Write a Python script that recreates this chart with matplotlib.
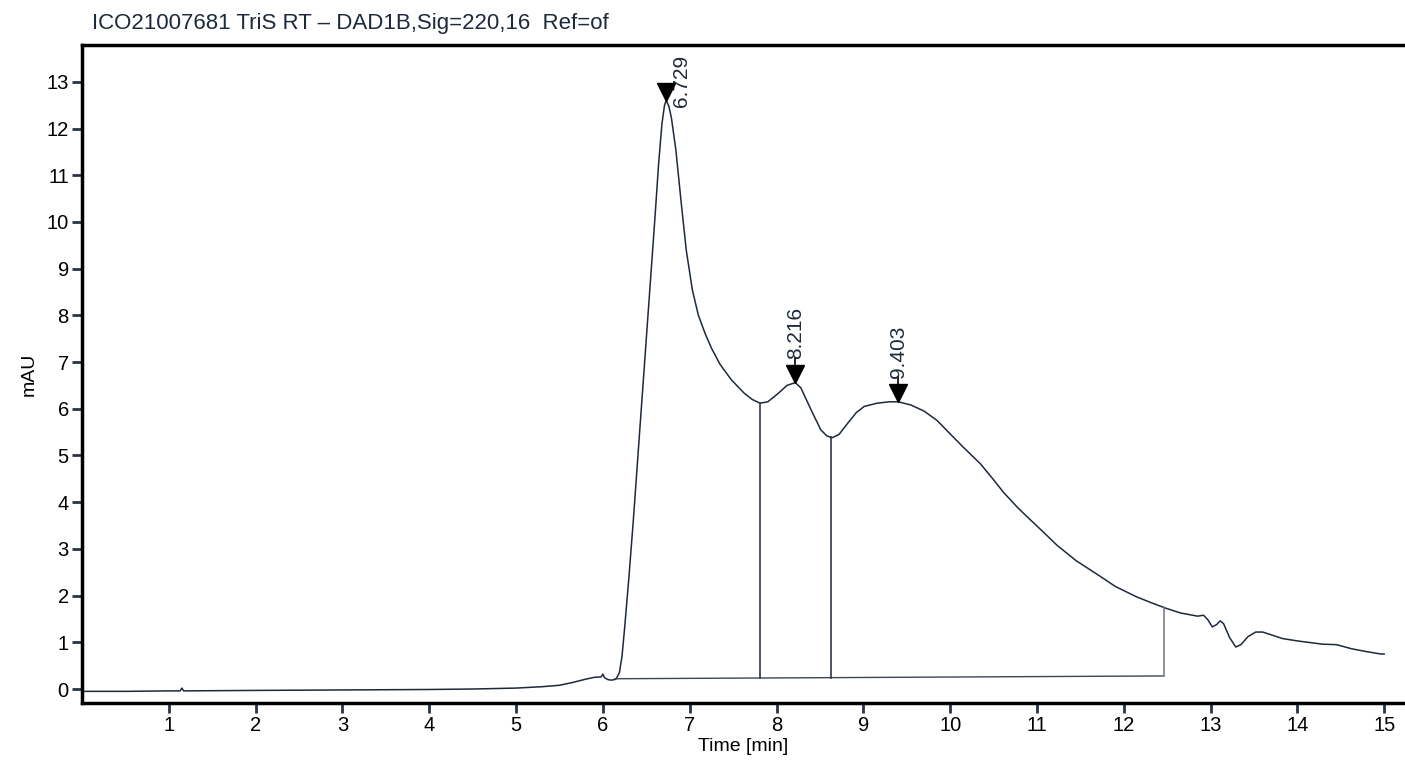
import numpy as np
import matplotlib
matplotlib.use('Agg')
import matplotlib.pyplot as plt

# chromatogram trace, DAD1B signal 220 nm
time_min = [0.00, 0.50, 1.00, 1.13, 1.15, 1.17, 2.00, 3.00, 4.00, 4.50, 5.00, 5.30, 5.50,
            5.65, 5.80, 5.90, 5.98, 6.00, 6.02, 6.06, 6.10, 6.15, 6.19, 6.22, 6.25, 6.30,
            6.35, 6.40, 6.45, 6.50, 6.55, 6.60, 6.64, 6.68, 6.71, 6.729, 6.76, 6.79, 6.84,
            6.90, 6.96, 7.03, 7.10, 7.18, 7.25, 7.35, 7.48, 7.63, 7.72, 7.81, 7.90, 8.02,
            8.12, 8.216, 8.28, 8.40, 8.51, 8.58, 8.64, 8.72, 8.82, 8.92, 9.01, 9.16, 9.30,
            9.403, 9.55, 9.70, 9.85, 9.97, 10.15, 10.35, 10.50, 10.62, 10.78, 10.92, 11.08,
            11.23, 11.45, 11.69, 11.90, 12.14, 12.30, 12.47, 12.65, 12.85, 12.92, 12.97, 13.02,
            13.07, 13.11, 13.15, 13.22, 13.29, 13.35, 13.43, 13.52, 13.60, 13.70, 13.83, 14.00,
            14.29, 14.45, 14.63, 14.80, 14.96, 15.00]
signal_mau = [-0.05, -0.05, -0.04, -0.04, 0.02, -0.04, -0.03, -0.02, -0.01, 0.00, 0.02, 0.05, 0.08,
              0.14, 0.21, 0.25, 0.26, 0.32, 0.24, 0.20, 0.19, 0.21, 0.35, 0.70, 1.30, 2.40,
              3.60, 4.90, 6.20, 7.50, 8.80, 10.10, 11.20, 12.10, 12.50, 12.60, 12.48, 12.22, 11.55,
              10.45, 9.40, 8.55, 8.00, 7.60, 7.30, 6.95, 6.62, 6.33, 6.20, 6.12, 6.15, 6.33,
              6.50, 6.56, 6.45, 5.97, 5.55, 5.42, 5.38, 5.45, 5.69, 5.92, 6.05, 6.12, 6.15,
              6.15, 6.08, 5.95, 5.75, 5.52, 5.18, 4.82, 4.48, 4.20, 3.88, 3.63, 3.35,
              3.08, 2.75, 2.46, 2.20, 1.98, 1.86, 1.74, 1.63, 1.56, 1.58, 1.48, 1.33,
              1.38, 1.46, 1.40, 1.10, 0.90, 0.95, 1.12, 1.22, 1.22, 1.16, 1.08, 1.03,
              0.96, 0.95, 0.86, 0.80, 0.75, 0.75]

peak_rt = [6.729, 8.216, 9.403]
peak_labels = ['6.729', '8.216', '9.403']

# integration baseline and drop lines
baseline_t = [6.14, 12.46]
baseline_y = [0.22, 0.28]
drop_t = [7.81, 8.63, 12.46]

title = 'ICO21007681 TriS RT \u2013 DAD1B,Sig=220,16  Ref=of'

plt.rcParams['font.family'] = ['Liberation Sans', 'DejaVu Sans']

fig = plt.figure(figsize=(14.05, 7.67), dpi=100)
ax = fig.add_axes([0.0584, 0.0834, 0.9416, 0.858])

line_col = '#1c2a3c'
ax.plot(time_min, signal_mau, color=line_col, lw=1.1)

ax.plot(baseline_t, baseline_y, color='#3a4656', lw=1.0)
for t in drop_t:
    yb = np.interp(t, baseline_t, baseline_y)
    ys = np.interp(t, time_min, signal_mau)
    col = '#7a818c' if t == drop_t[-1] else '#2c3848'
    ax.plot([t, t], [yb, ys], color=col, lw=1.2)

# peak markers and retention time labels
for i, (rt, lab) in enumerate(zip(peak_rt, peak_labels)):
    top = np.interp(rt, time_min, signal_mau)
    ax.plot(rt, top + 0.18, marker='v', color='black', markersize=12.5, zorder=5)
    if i == 0:
        ax.text(rt + 0.18, top - 0.14, lab, rotation=90, ha='center', va='bottom',
                fontsize=15, color=line_col)
    else:
        ax.plot([rt, rt], [top + 0.36, top + 0.52], color='black', lw=1.2)
        ax.text(rt, top + 0.50, lab, rotation=90, ha='center', va='bottom',
                fontsize=15, color=line_col)

ax.set_xlim(0, 15.24)
ax.set_ylim(-0.3, 13.79)
ax.set_xticks(range(1, 16))
ax.set_yticks(range(0, 14))
ax.tick_params(direction='out', length=7.5, width=2, color='#2a3444', labelsize=14.5, pad=2)

for s in ['left', 'bottom', 'top']:
    ax.spines[s].set_linewidth(2.5)
    ax.spines[s].set_color('black')
ax.spines['right'].set_visible(False)

ax.set_xlabel('Time [min]', fontsize=14, labelpad=2)
ax.set_ylabel('mAU', fontsize=14, labelpad=6)
fig.text(0.0655, 0.97, title, fontsize=16, ha='left', va='center', color=line_col)

plt.savefig('out.png', dpi=100)
